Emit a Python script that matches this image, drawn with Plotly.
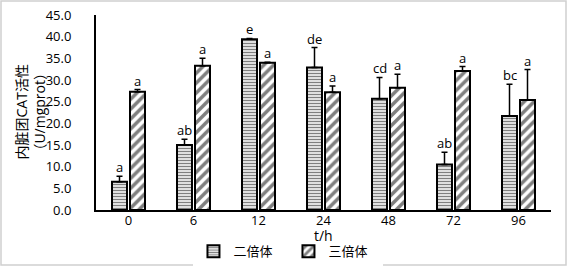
import plotly.graph_objects as go

categories = ["0", "6", "12", "24", "48", "72", "96"]
diploid = [6.5, 15.0, 39.4, 32.9, 25.7, 10.5, 21.7]
diploid_err = [1.3, 1.3, 0.2, 4.6, 4.9, 2.8, 7.3]
triploid = [27.3, 33.3, 34.0, 27.2, 28.2, 32.1, 25.4]
triploid_err = [0.5, 1.7, 0.1, 1.4, 3.1, 1.0, 7.0]
diploid_letters = ["a", "ab", "e", "de", "cd", "ab", "bc"]
triploid_letters = ["a", "a", "a", "a", "a", "a", "a"]

FONT = "Open Sans, Noto Sans CJK SC, sans-serif"

fig = go.Figure()
fig.add_trace(go.Bar(
    x=categories, y=diploid, name="二倍体",
    marker=dict(color="white", line=dict(color="black", width=2),
                pattern=dict(shape="-", fgcolor="black", bgcolor="white", size=3, solidity=0.5)),
    error_y=dict(type="data", symmetric=False, array=diploid_err,
                 arrayminus=[0]*len(diploid_err), color="black", thickness=1.5, width=3),
))
fig.add_trace(go.Bar(
    x=categories, y=triploid, name="三倍体",
    marker=dict(color="white", line=dict(color="black", width=2),
                pattern=dict(shape="/", fgcolor="black", bgcolor="white", size=7, solidity=0.5)),
    error_y=dict(type="data", symmetric=False, array=triploid_err,
                 arrayminus=[0]*len(triploid_err), color="black", thickness=1.5, width=3),
))

for i, (v, e, t) in enumerate(zip(diploid, diploid_err, diploid_letters)):
    fig.add_annotation(x=i, y=v + e, text=t, showarrow=False, xshift=-9,
                       yanchor="bottom", yshift=-2, font=dict(size=13, color="black", family=FONT))
for i, (v, e, t) in enumerate(zip(triploid, triploid_err, triploid_letters)):
    fig.add_annotation(x=i, y=v + e, text=t, showarrow=False, xshift=9,
                       yanchor="bottom", yshift=-2, font=dict(size=13, color="black", family=FONT))

# y-axis title as rotated annotation
fig.add_annotation(xref="paper", yref="paper", x=(30 - 96) / 455, y=0.5,
                   text="内脏团CAT活性<br>（U/mgprot）", textangle=-90, showarrow=False,
                   xanchor="center", yanchor="middle",
                   font=dict(size=14, color="black", family=FONT))
# x-axis title as annotation
fig.add_annotation(xref="paper", yref="paper", x=0.5, y=(210 - 235) / 195,
                   text="t/h", showarrow=False, xanchor="center", yanchor="middle",
                   font=dict(size=14, color="black", family=FONT))

# outer light-gray frame
fig.add_shape(type="rect", xref="paper", yref="paper",
              x0=-95/455, x1=470/455, y0=-55/195, y1=209/195,
              line=dict(color="#d0d0d0", width=1.5), fillcolor="rgba(0,0,0,0)", layer="above")

fig.update_layout(
    width=567, height=266,
    margin=dict(l=96, r=16, t=15, b=56, autoexpand=False),
    paper_bgcolor="white", plot_bgcolor="white",
    barmode="group", bargap=0.446, bargroupgap=0.167,
    font=dict(family=FONT, size=13, color="black"),
    showlegend=True,
    legend=dict(orientation="h", x=0.423, xanchor="center", y=-0.135, yanchor="top",
                font=dict(size=13, family=FONT), itemwidth=30, tracegroupgap=0,
                entrywidth=50, entrywidthmode="pixels"),
    xaxis=dict(type="category", range=[-0.5, 6.5], showline=True, linecolor="black", linewidth=2,
               ticks="", tickfont=dict(size=13), automargin=False, showgrid=False,
               ticklabelstandoff=-3),
    yaxis=dict(range=[0, 45], dtick=5, tickformat=".1f", showline=True, linecolor="black",
               linewidth=2, ticks="", showgrid=False, zeroline=False, automargin=False,
               tickfont=dict(size=13), ticklabelstandoff=20),
)

fig.write_html("out.html", config={"displayModeBar": False},
               post_script="document.body.style.margin='0';document.body.style.overflow='hidden';")
